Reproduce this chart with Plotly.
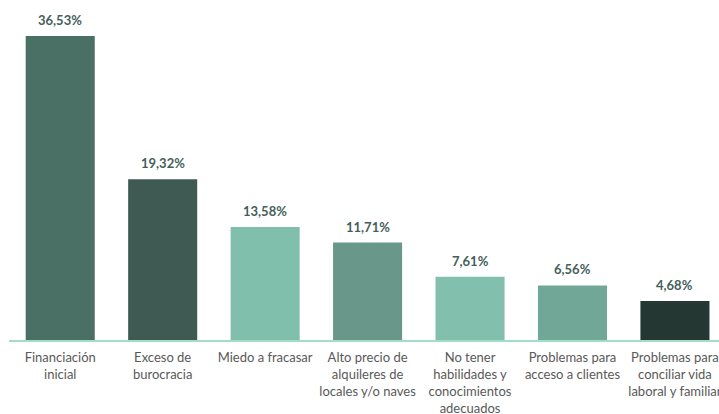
import plotly.graph_objects as go

categories = [
    "Financiación<br>inicial",
    "Exceso de<br>burocracia",
    "Miedo a fracasar",
    "Alto precio de<br>alquileres de<br>locales y/o naves",
    "No tener<br>habilidades y<br>conocimientos<br>adecuados",
    "Problemas para<br>acceso a clientes",
    "Problemas para<br>conciliar vida<br>laboral y familiar",
]
values = [36.53, 19.32, 13.58, 11.71, 7.61, 6.56, 4.68]
labels = ["36,53%", "19,32%", "13,58%", "11,71%", "7,61%", "6,56%", "4,68%"]
colors = ["#4a6f64", "#3e5a52", "#80bfab", "#69988a", "#82c0ad", "#70a796", "#253733"]

xs = list(range(len(categories)))
fig = go.Figure(go.Bar(
    x=xs,
    y=values,
    marker=dict(color=colors, line=dict(width=0)),
))
for x, v, t in zip(xs, values, labels):
    fig.add_annotation(
        x=x, y=v, text="<b>" + t + "</b>", showarrow=False,
        yanchor="bottom", yshift=6,
        font=dict(family="Lato", size=13, color="#44605a"),
    )
fig.update_layout(
    width=719, height=414,
    margin=dict(l=9, r=0, t=0, b=74, autoexpand=False),
    paper_bgcolor="white", plot_bgcolor="white",
    bargap=0.326,
    showlegend=False,
    font=dict(family="Lato", size=13, color="#595959"),
)
fig.update_xaxes(
    tickmode="array", tickvals=xs, ticktext=categories,
    range=[-0.5, 6.43], showline=True, linecolor="#a3dcc9", linewidth=1.5,
    showgrid=False, zeroline=False, ticks="", ticklabelstandoff=5,
    ticklabeloverflow="allow", automargin=False,
    tickfont=dict(size=13, color="#595959"),
)
fig.update_yaxes(range=[0, 40.86], visible=False, showgrid=False, zeroline=False,
                 automargin=False)
fig.write_html(
    "out.html",
    config={"displayModeBar": False},
    post_script="document.body.style.margin='0';document.body.style.overflow='hidden';",
)
